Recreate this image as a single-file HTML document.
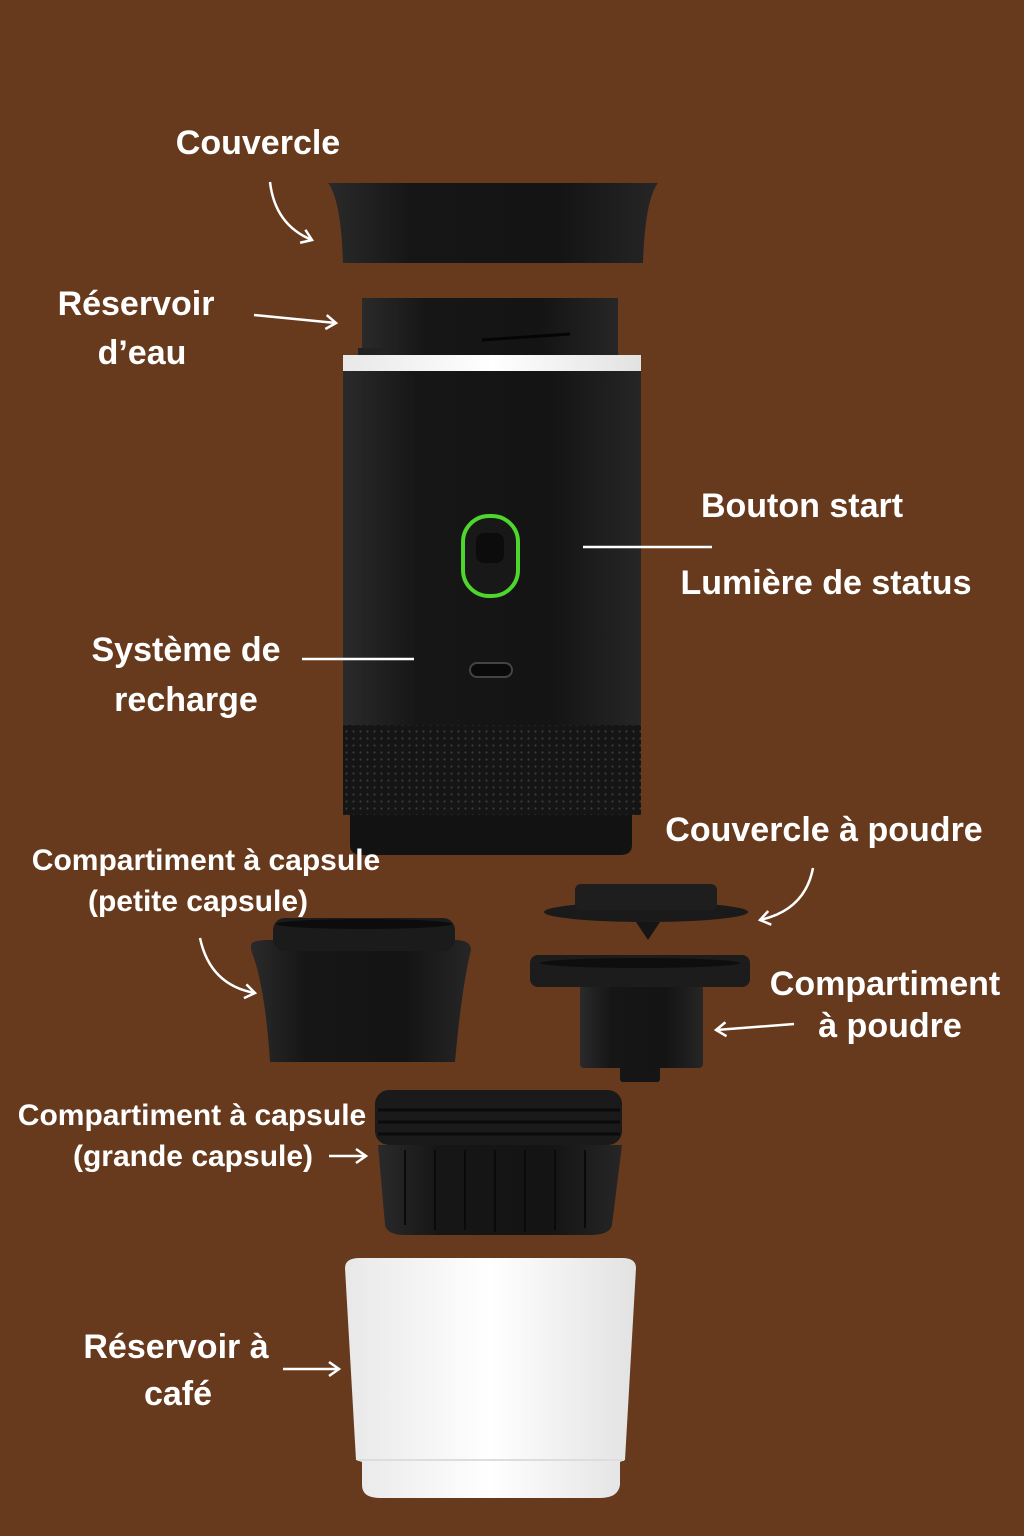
<!DOCTYPE html>
<html><head><meta charset="utf-8"><style>
html,body{margin:0;padding:0;background:#673a1d;}
svg{display:block}
text{font-family:"Liberation Sans",sans-serif;font-weight:bold;fill:#fff;}
</style></head><body>
<svg width="1024" height="1536" viewBox="0 0 1024 1536" xmlns="http://www.w3.org/2000/svg">
<defs>
<linearGradient id="blk" x1="0" x2="1" y1="0" y2="0">
<stop offset="0" stop-color="#2a2a2a"/><stop offset="0.25" stop-color="#161616"/><stop offset="0.7" stop-color="#141414"/><stop offset="1" stop-color="#262626"/>
</linearGradient>
<linearGradient id="wht" x1="0" x2="1"><stop offset="0" stop-color="#e8e8e8"/><stop offset="0.5" stop-color="#fff"/><stop offset="1" stop-color="#e2e2e2"/></linearGradient>
<pattern id="dots" width="7" height="7" patternUnits="userSpaceOnUse"><circle cx="3.5" cy="3.5" r="1.1" fill="#3a3a3a"/></pattern>
<marker id="ah" markerWidth="16" markerHeight="16" refX="12" refY="8" orient="auto" markerUnits="userSpaceOnUse"><path d="M2,1 L12,8 L2,15" fill="none" stroke="#fff" stroke-width="2.5"/></marker>
</defs>
<rect width="1024" height="1536" fill="#673a1d"/>

<path d="M328,183 L658,183 Q645,200 643,263 L343,263 Q341,200 328,183Z" fill="url(#blk)"/>
<rect x="362" y="298" width="256" height="60" fill="url(#blk)"/>
<path d="M482,340 L570,334" stroke="#050505" stroke-width="3"/>
<rect x="358" y="348" width="30" height="8" fill="#222"/>
<rect x="343" y="355" width="298" height="16" fill="url(#wht)"/>
<rect x="343" y="371" width="298" height="354" fill="url(#blk)"/>
<rect x="343" y="725" width="298" height="90" fill="#151515"/>
<rect x="343" y="725" width="298" height="90" fill="url(#dots)"/>
<path d="M350,815 L632,815 L632,845 Q632,855 620,855 L362,855 Q350,855 350,845Z" fill="#121212"/>
<rect x="463" y="516" width="55" height="80" rx="26" fill="#181818" stroke="#4fd62c" stroke-width="4"/>
<rect x="476" y="533" width="28" height="30" rx="8" fill="#0c0c0c"/>
<rect x="470" y="663" width="42" height="14" rx="7" fill="#0a0a0a" stroke="#444" stroke-width="2"/>

<path d="M251,945 Q251,940 270,940 L455,940 Q471,940 471,950 Q462,985 455,1062 L270,1062 Q265,985 251,950Z" fill="url(#blk)"/>
<rect x="273" y="918" width="182" height="33" rx="12" fill="#1b1b1b"/>
<ellipse cx="364" cy="924" rx="88" ry="5" fill="#0c0c0c"/>

<ellipse cx="646" cy="912" rx="102" ry="10" fill="#1a1a1a"/>
<rect x="575" y="884" width="142" height="26" rx="6" fill="#1e1e1e"/>
<path d="M636,922 L660,922 L648,940Z" fill="#151515"/>
<rect x="580" y="985" width="123" height="83" rx="4" fill="url(#blk)"/>
<rect x="620" y="1066" width="40" height="16" rx="3" fill="#151515"/>
<rect x="530" y="955" width="220" height="32" rx="8" fill="#1c1c1c"/>
<ellipse cx="640" cy="963" rx="100" ry="5" fill="#0e0e0e"/>

<rect x="375" y="1090" width="247" height="55" rx="14" fill="#1a1a1a"/>
<path d="M378,1110 L620,1110 M378,1122 L620,1122 M378,1134 L620,1134" stroke="#0b0b0b" stroke-width="3"/>
<path d="M378,1145 L622,1145 L612,1225 Q610,1235 590,1235 L405,1235 Q387,1235 385,1225Z" fill="url(#blk)"/>
<g stroke="#0a0a0a" stroke-width="2">
<path d="M405,1150V1225M435,1150V1230M465,1150V1230M495,1150V1232M525,1150V1232M555,1150V1230M585,1150V1228"/>
</g>

<path d="M345,1268 Q345,1258 360,1258 L622,1258 Q636,1258 636,1268 L625,1460 L620,1462 L620,1485 Q618,1498 600,1498 L380,1498 Q362,1498 362,1485 L362,1462 L356,1460Z" fill="url(#wht)"/>
<path d="M358,1460 L624,1460" stroke="#ddd" stroke-width="2"/>

<g font-size="34">
<text x="258" y="154" text-anchor="middle">Couvercle</text>
<text x="136" y="315" text-anchor="middle">Réservoir</text>
<text x="142" y="364" text-anchor="middle">d’eau</text>
<text x="802" y="517" text-anchor="middle">Bouton start</text>
<text x="826" y="594" text-anchor="middle">Lumière de status</text>
<text x="186" y="661" text-anchor="middle">Système de</text>
<text x="186" y="711" text-anchor="middle">recharge</text>
<text x="824" y="841" text-anchor="middle">Couvercle à poudre</text>
<text x="885" y="995" text-anchor="middle">Compartiment</text>
<text x="890" y="1037" text-anchor="middle">à poudre</text>
<text x="176" y="1358" text-anchor="middle">Réservoir à</text>
<text x="178" y="1405" text-anchor="middle">café</text>
</g>
<g font-size="30">
<text x="206" y="870" text-anchor="middle">Compartiment à capsule</text>
<text x="198" y="911" text-anchor="middle">(petite capsule)</text>
<text x="192" y="1125" text-anchor="middle">Compartiment à capsule</text>
<text x="193" y="1166" text-anchor="middle">(grande capsule)</text>
</g>

<g stroke="#fff" stroke-width="2.5" fill="none">
<path d="M270,182 Q275,225 312,240" marker-end="url(#ah)"/>
<path d="M254,315 L336,323" marker-end="url(#ah)"/>
<path d="M583,547 L712,547"/>
<path d="M302,659 L414,659"/>
<path d="M813,868 Q805,910 760,920" marker-end="url(#ah)"/>
<path d="M794,1024 L716,1030" marker-end="url(#ah)"/>
<path d="M200,938 Q210,985 255,993" marker-end="url(#ah)"/>
<path d="M329,1156 L366,1156" marker-end="url(#ah)"/>
<path d="M283,1369 L339,1369" marker-end="url(#ah)"/>
</g>
</svg>
</body></html>
